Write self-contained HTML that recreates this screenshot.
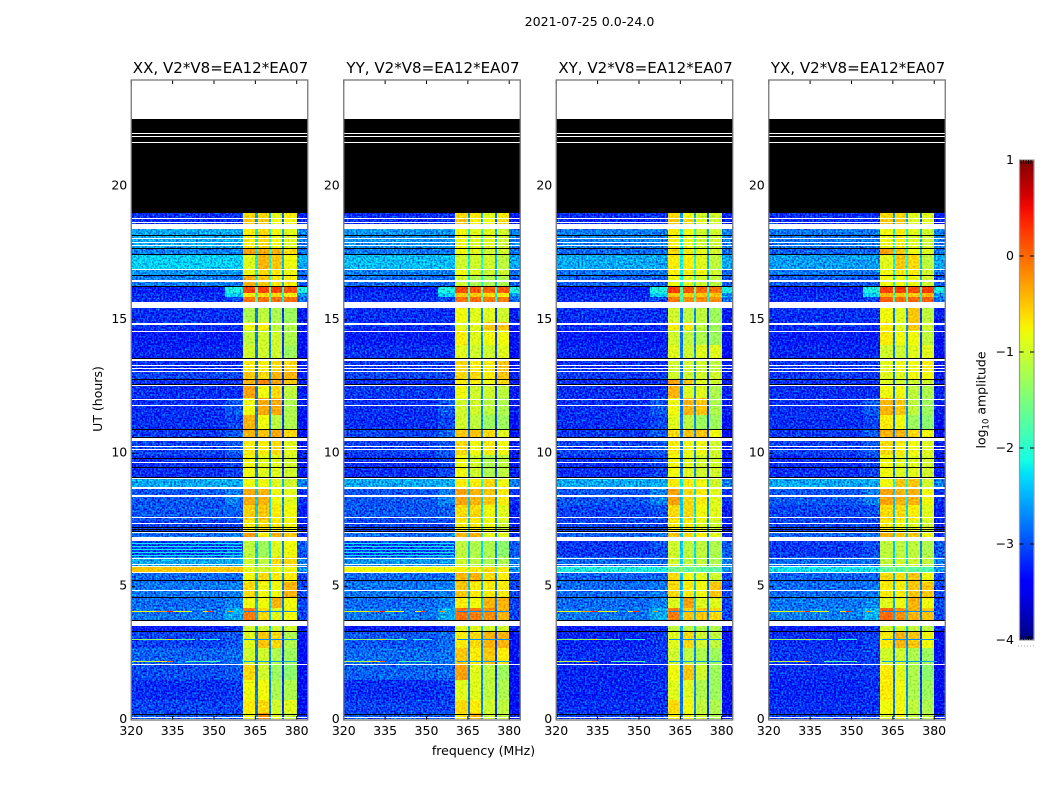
<!DOCTYPE html>
<html lang="en">
<head>
<meta charset="utf-8">
<title>2021-07-25 0.0-24.0</title>
<style>
html,body{margin:0;padding:0;background:#fff;}
svg{display:block;}
text{font-family:"DejaVu Sans","Liberation Sans",sans-serif;fill:#000;}
.tick{font-size:12.5px;}
.ttl{font-size:15.05px;}
</style>
</head>
<body>
<svg id="chart" xmlns="http://www.w3.org/2000/svg" width="1050" height="800" viewBox="0 0 1050 800">
  <defs>
    <filter id="noise-low" filterUnits="userSpaceOnUse" x="0" y="0" width="1050" height="800" color-interpolation-filters="sRGB">
      <feTurbulence type="fractalNoise" baseFrequency="0.55" numOctaves="1" seed="3" result="t"/>
      <feColorMatrix in="t" type="matrix" values="0 0 0 0 0.5  1.6 0 0 0 -0.35  0.9 0 0 0 0.05  0 0 0 0 1" result="n"/>
      <feComposite in="SourceGraphic" in2="n" operator="arithmetic" k1="0" k2="1" k3="1" k4="-0.5" result="m"/>
      <feComposite in="m" in2="SourceAlpha" operator="in"/>
    </filter>
    <filter id="noise-high" filterUnits="userSpaceOnUse" x="0" y="0" width="1050" height="800" color-interpolation-filters="sRGB">
      <feTurbulence type="fractalNoise" baseFrequency="0.5" numOctaves="1" seed="8" result="t"/>
      <feColorMatrix in="t" type="matrix" values="0.4 0 0 0 0.3  0.5 0 0 0 0.25  0.3 0 0 0 0.35  0 0 0 0 1" result="n"/>
      <feComposite in="SourceGraphic" in2="n" operator="arithmetic" k1="0" k2="1" k3="1" k4="-0.5" result="m"/>
      <feComposite in="m" in2="SourceAlpha" operator="in"/>
    </filter>
    <linearGradient id="jet-gradient" x1="0" y1="1" x2="0" y2="0"></linearGradient>
  </defs>

  <text x="589.5" y="26" text-anchor="middle" style="font-size:12.6px">2021-07-25 0.0-24.0</text>
  <text class="tick" transform="translate(102 399) rotate(-90)" text-anchor="middle">UT (hours)</text>
  <text class="tick" x="483.5" y="755" text-anchor="middle">frequency (MHz)</text>

  <g id="panels"></g>

  <g id="colorbar"></g>
  <text class="tick" transform="translate(985.5 400) rotate(-90)" text-anchor="middle">log<tspan dy="3" style="font-size:8.5px">10</tspan><tspan dy="-3"> amplitude</tspan></text>
</svg>

<script>
const panelTitles = ['XX, V2*V8=EA12*EA07', 'YY, V2*V8=EA12*EA07', 'XY, V2*V8=EA12*EA07', 'YX, V2*V8=EA12*EA07'];
const xTicks = [320, 335, 350, 365, 380];
const yTicks = [0, 5, 10, 15, 20];
const colorTicks = [1, 0, -1, -2, -3, -4];
const colorTickLabels = ['1', '0', '\u22121', '\u22122', '\u22123', '\u22124'];

// Time-section edges in UT hours, top to bottom (42 sections)
const sectionEdges = [19.02,18.825,18.41,17.7,17.44,16.875,16.65,16.275,16.01,15.86,15.45,14.925,14.625,14.06,13.575,13.05,12.79,12.56,12.075,11.44,10.875,10.61,9.94,9.11,8.66,8.06,7.5,7.01,6.71,6.11,5.775,5.55,5.175,4.61,4.2,3.75,3.3,2.7,2.1,1.5,0.75,0.26,0];

// log10 amplitude of the quiet band 320-354 MHz for each section
const lowXX = [-3.1,-3.1,-2.5,-2.7,-2.3,-2.6,-2.7,-3.2,-3.1,-3.1,-3.1,-3.1,-3.2,-3.15,-3.1,-3,-3.1,-3.1,-3.1,-3.1,-3.05,-3,-3.1,-2.5,-2.9,-2.9,-3,-2.8,-3,-2.5,-0.5,-2.8,-2.75,-2.8,-2.75,-3.2,-3,-2.85,-2.95,-3.1,-3,-2.9];
const lowYY = [-3.1,-3.1,-2.6,-2.75,-2.4,-2.7,-2.8,-3.2,-3.1,-3.1,-3.1,-3.1,-3.2,-3.1,-3.05,-3,-3.1,-3.05,-3.1,-3.1,-3,-3,-3.1,-2.5,-2.9,-2.9,-3,-2.8,-3,-2.6,-0.8,-2.8,-2.75,-2.8,-2.75,-3.2,-2.9,-2.8,-2.85,-3.1,-3,-2.9];
const lowXY = [-3.1,-3.1,-2.7,-2.8,-2.5,-2.75,-2.85,-3.2,-3.1,-3.1,-3.1,-3.1,-3.2,-3.15,-3.1,-3.05,-3.1,-3.1,-3.1,-3.1,-3.05,-3,-3.1,-2.5,-2.9,-3,-3,-2.85,-3.05,-2.8,-2.1,-2.85,-2.8,-2.8,-2.75,-3.2,-3.15,-3.1,-3.15,-3.15,-3.1,-3];
const lowYX = [-3.1,-3.1,-2.75,-2.85,-2.55,-2.75,-2.9,-3.2,-3.1,-3.1,-3.1,-3.1,-3.2,-3.15,-3.05,-3.05,-3.1,-3.1,-3.1,-3.1,-3.05,-3,-3.1,-2.5,-2.9,-3,-3,-2.85,-3.05,-2.8,-2.2,-2.85,-2.8,-2.75,-2.7,-3.2,-3.1,-3.05,-3.1,-3.15,-3.1,-3];

// Shared levels: rise of the 354-360.5 MHz transition band above the quiet band, tail 380-384 MHz, gaps between blocks
const midRise = [0,0,0,0,0,0,0,1.1,.8,.1,0,0,0,0,0,0,0,0,.2,.1,.15,.1,.1,0,.2,.05,0,.1,.1,0,0,0,.05,.1,.25,.1,.1,.05,.05,.05,0,0];
const tailLevels = [-3.2,-3.2,-2.7,-2.8,-2.5,-2.8,-2.9,-2.1,-2.6,-2.8,-3.2,-3.2,-3.3,-3.3,-3.2,-3.2,-3.2,-3.2,-3.2,-3.3,-3.3,-3.2,-3.2,-2.7,-3.1,-3.2,-3.2,-3.1,-2.9,-2.7,-2.6,-3,-3,-3,-3,-3.2,-3.3,-3.3,-3.3,-3.3,-3.3,-3.2];
const gapLevels = [-2.7,-2.7,-2.3,-2.3,-2.3,-2.3,-2.3,-1.8,-2,-2,-2.9,-2.9,-2.9,-2.9,-2.9,-2.9,-2.9,-2.9,-2.9,-2.9,-2.9,-2.9,-2.9,-2.3,-2.5,-2.5,-2.5,-2.5,-2.5,-2.5,-1.5,-2.5,-2.6,-2.6,-2.6,-2.6,-2.9,-2.9,-2.9,-2.9,-2.9,-2.9];
const gapBias = [0.1, 0.2, -0.2];

// Bright frequency blocks (MHz)
const blockStarts = [360.5, 365.8, 370.5, 375.5];
const blockEnds = [365, 369.8, 374.7, 380];

// log10 amplitude for the four bright blocks, one row per section
const blocksXX = [[-.6,-.6,-.9,-.7],[-.5,-.5,-.8,-.8],[-.7,-.6,-.8,-.9],[-.3,-.35,-.4,-.6],[-.9,-.4,-.5,-.8],[-.8,-.6,-.7,-.8],[-.35,-.5,-.7,-.7],[.2,.2,.2,.1],[-.7,-.6,-.6,-.7],[-.05,-.05,-.05,-.05],[-1.2,-1.1,-1.2,-1.3],[-.8,-.7,-1.1,-1.2],[-1.1,-1,-1,-1.2],[-1,-1,-1,-1.3],[-.7,-.7,-.6,-.6],[-.5,-.6,-.4,-.4],[-.4,-.15,-.3,-.5],[-.3,-.8,-.6,-1.1],[-.8,-.35,-.35,-1.2],[-.4,-.8,-1.1,-1.2],[-.4,-.5,-.35,-.6],[-.7,-.7,-.6,-.9],[-.8,-.9,-.9,-1],[-.8,-.8,-.9,-1],[-.35,-.4,-.8,-.9],[-.55,-.5,-.7,-.8],[-.7,-.6,-.7,-.8],[-.3,-.7,-.4,-.5],[-1.1,-1.3,-.9,-.8],[-1,-1.1,-.6,-.6],[-.9,-1,-.8,-.8],[-.8,-.6,-.7,-.7],[-.6,-.8,-.8,-.4],[-.8,-.8,-.4,-.8],[-.1,-.6,-.9,-.8],[-1,-1,-1,-1],[-.9,-.5,-.6,-1.2],[-1,-1,-1.2,-1.3],[-.6,-1,-1.3,-1.4],[-.8,-.8,-1.2,-1.2],[-.7,-.6,-1,-.9],[-.8,-.2,-.9,-1.1]];
const blocksYY = [[-.6,-.7,-.9,-.7],[-.5,-.7,-.8,-.6],[-.8,-.9,-.9,-1],[-.8,-.9,-1,-1],[-1,-1,-1,-1.1],[-.8,-.9,-1,-1],[-1,-1.2,-1.2,-1.2],[.15,.1,.05,.1],[-.5,-.5,-.6,-.7],[-.05,0,-.1,-.1],[-.8,-.9,-.9,-1],[-.9,-.9,-.5,-.5],[-.7,-.9,-.8,-.8],[-.9,-1,-1,-.9],[-.6,-.7,-.7,-.5],[-.6,-.6,-.7,-.5],[-.7,-.7,-.8,-.6],[-.8,-1,-1,-1.1],[-1,-1,-1.1,-1.2],[-1,-1.1,-1.3,-1.3],[-.5,-.5,-.6,-.9],[-.6,-.8,-.7,-.8],[-.8,-1,-1.2,-1.1],[-.7,-.7,-.6,-.8],[-.3,-.4,-.5,-.7],[-.6,-.6,-.8,-.9],[-.7,-.7,-.8,-1],[-.4,-.4,-.9,-.9],[-1.1,-1.2,-1.2,-1.4],[-1,-1.1,-1.2,-1.2],[-.7,-.7,-.6,-.7],[-.4,-.4,-.6,-.7],[-.5,-.7,-.7,-.7],[-.7,-.8,-.4,-.4],[-.05,-.1,-.2,-.4],[-.9,-.9,-1,-1],[-.7,-.6,-.4,-.4],[-.5,-.7,-.5,-.7],[-.3,-.9,-1.1,-1.3],[-.9,-.9,-1.1,-1.2],[-.6,-.7,-1,-1.1],[-.7,-.4,-1,-1.1]];
const blocksXY = [[-.6,-.8,-1,-1],[-.5,-.6,-.9,-1],[-.7,-.8,-1,-1],[-.6,-.7,-.9,-1],[-.7,-.7,-.9,-1.1],[-.7,-.7,-.8,-1],[-.8,-.9,-1,-1.1],[.25,.1,0,-.05],[-.5,-.5,-.5,-.5],[-.1,-.2,-.2,-.2],[-1,-1.1,-1.1,-1.3],[-.7,-.7,-1.1,-1.3],[-1,-1.1,-1.2,-1.3],[-.9,-1,-.9,-.9],[-1,-1,-1,-1.1],[-1,-1,-1,-1],[-.3,-.5,-.9,-1],[-.4,-.9,-.9,-1.2],[-.8,-.4,-.5,-1.2],[-.9,-1.1,-1.3,-1.3],[-.6,-.5,-.5,-.8],[-.7,-.8,-.8,-1],[-.8,-.9,-1,-1],[-.7,-.7,-.8,-1],[-.3,-.6,-.7,-.9],[-.6,-.6,-.8,-.9],[-.7,-.7,-.9,-1],[-.5,-.6,-.7,-.9],[-1,-1.1,-1.1,-1.2],[-1,-1.1,-1.1,-1.2],[-1.6,-1.7,-1.7,-1.7],[-.6,-.8,-.9,-1],[-.6,-.7,-.8,-.5],[-.9,-.3,-.9,-.9],[-.1,-.5,-.5,-.6],[-1.1,-1.1,-1.2,-1.2],[-.9,-.6,-1,-1.1],[-1,-1.1,-1.2,-1.3],[-.8,-.5,-1,-1.3],[-.9,-.9,-1.2,-1.3],[-.6,-.8,-1.1,-1.2],[-.7,-.8,-1,-1.2]];
const blocksYX = [[-.6,-.6,-.9,-.9],[-.5,-.5,-.9,-.9],[-.8,-.7,-.9,-1],[-.3,-.5,-.8,-.9],[-.9,-.5,-.6,-1.1],[-.8,-.7,-.7,-1],[-.8,-.8,-.8,-1],[.2,.25,.15,.25],[-.4,-.5,-.5,-.4],[.05,0,0,.05],[-.8,-.9,-.5,-1.1],[-.7,-.9,-.5,-1],[-.7,-.8,-.8,-1.1],[-1,-1,-.9,-.9],[-.9,-.8,-.8,-.7],[-.9,-.9,-.8,-.8],[-.9,-1,-1,-1],[-.8,-.8,-1.1,-1.2],[-.4,-.5,-1.1,-1.3],[-.7,-.8,-1.3,-1.4],[-.4,-.4,-.6,-.8],[-.6,-.7,-.8,-.9],[-.8,-.9,-.9,-1],[-.8,-.5,-.5,-1],[-.3,-.4,-.4,-.8],[-.6,-.6,-.7,-.9],[-.7,-.8,-.9,-1],[-.4,-.5,-.5,-.8],[-1.1,-1.1,-1.1,-1.2],[-1.1,-1,-1,-1.1],[-1.7,-1.7,-1.7,-1.8],[-.6,-.6,-.5,-.8],[-.7,-.7,-.5,-.5],[-.9,-.8,-.4,-.8],[0,-.2,-.4,-.5],[-1,-1,-1.1,-1.1],[-.7,-.4,-.5,-.8],[-1,-1,-1.2,-1.3],[-.7,-.9,-1.2,-1.4],[-.7,-.8,-1.2,-1.3],[-.8,-.8,-1.1,-1.2],[-.9,-.8,-1.1,-1.1]];

const panelLow = [lowXX, lowYY, lowXY, lowYX];
const panelBlocks = [blocksXX, blocksYY, blocksXY, blocksYX];

// RFI spike rows: hour, start MHz, end MHz, level
const spikeHours = [4.1,4.1,4.1,4.1,4.1,4.1,4.1,3.04,3.04,3.04,3.04,3.04,2.2,2.2,2.2,2.2,2.2];
const spikeStarts = [320,329,333,346,348,355,361,320,333,335,345,361,320,329,333,340,361];
const spikeEnds = [342,333,335,348,350,357,381,333,335,343,352,381,333,333,335,352,381];
const spikeValues = [-.8,-.3,.4,-.7,.3,-.2,-2.7,-1.4,-.6,-1.7,-2,-2.7,-1.1,-.7,0,-1.8,-2.6];

// Stripe rows seen only in the parallel-hand panels
const stripeHours = [6.64,6.525,6.41,6.3,6.19];
const stripeLevels = [-2.2,-2.2,-2.2,-2.2,-2.2];
const stripePanels = [1, 1, 0, 0];

// Flagged time ranges [top hour, bottom hour]
const blackBands = [[22.525,19.02],[18.19,18.15],[17.7,17.66],[17.475,17.44],[16.69,16.65],[16.29,16.25],[13.575,13.55],[12.79,12.75],[12.6,12.57],[10.91,10.88],[10.61,10.58],[9.825,9.79],[9.49,9.45],[9.13,9.09],[7.24,7.2],[7.16,7.14],[7.09,7.05],[5.24,5.2],[4.6,4.57],[3.76,3.73],[3.33,3.29],[.225,.19]];
const whiteBands = [[24,22.525],[22.01,21.97],[21.9,21.86],[21.675,21.64],[18.84,18.79],[18.69,18.64],[18.6,18.41],[18.06,18.02],[17.925,17.89],[17.81,17.77],[16.9,16.87],[16.5,16.425],[15.675,15.45],[14.87,14.83],[14.6,14.56],[13.55,13.45],[13.31,13.27],[13.2,13.16],[13.09,13.05],[12.56,12.52],[12.04,12],[11.81,11.78],[10.59,10.45],[10.29,10.26],[10.15,10.12],[9.66,9.62],[9.09,9.04],[8.74,8.65],[8.42,8.38],[7.63,7.59],[7.4,7.37],[7.05,7],[6.86,6.7],[6.075,6.04],[5.85,5.81],[5.79,5.76],[5.55,5.5],[4.86,4.82],[3.7,3.51],[2.09,2.05],[.1,.07],[.025,0]];

const SVG_NS = 'http://www.w3.org/2000/svg';
const panelLefts = [131.25, 343.75, 556.25, 768.75];
const axesWidth = 176.5, axesTop = 80, axesBottom = 720;
const FMIN = 320, FMAX = 384, TMAX = 24, CMIN = -4, CMAX = 1;
const CB_LEFT = 1019.5, CB_RIGHT = 1034, CB_TOP = 160, CB_BOTTOM = 640;

function xScale(p, mhz) { return panelLefts[p] + (mhz - FMIN) / (FMAX - FMIN) * axesWidth; }
function yScale(h) { return axesBottom - h / TMAX * (axesBottom - axesTop); }
function cScale(v) { return CB_BOTTOM - (v - CMIN) / (CMAX - CMIN) * (CB_BOTTOM - CB_TOP); }

function jet(t) {
  t = Math.max(0, Math.min(1, t));
  const r = t < 0.35 ? 0 : t < 0.66 ? (t - 0.35) / 0.31 : t < 0.89 ? 1 : 1 - (t - 0.89) / 0.11 * 0.5;
  const g = t < 0.125 ? 0 : t < 0.375 ? (t - 0.125) / 0.25 : t < 0.64 ? 1 : t < 0.91 ? 1 - (t - 0.64) / 0.27 : 0;
  const b = t < 0.11 ? 0.5 + t / 0.11 * 0.5 : t < 0.34 ? 1 : t < 0.65 ? 1 - (t - 0.34) / 0.31 : 0;
  return 'rgb(' + Math.round(r * 255) + ',' + Math.round(g * 255) + ',' + Math.round(b * 255) + ')';
}
function levelColor(v) { return jet((v - CMIN) / (CMAX - CMIN)); }

function makeRect(parent, x1, x2, y1, y2, fill) {
  const el = document.createElementNS(SVG_NS, 'rect');
  const rx = Math.round(x1), ry = Math.round(y1);
  el.setAttribute('x', rx);
  el.setAttribute('y', ry);
  el.setAttribute('width', Math.max(1, Math.round(x2) - rx));
  el.setAttribute('height', Math.max(1, Math.round(y2) - ry));
  el.setAttribute('fill', fill);
  parent.appendChild(el);
  return el;
}
function makeLine(parent, x1, y1, x2, y2, stroke, width) {
  const el = document.createElementNS(SVG_NS, 'line');
  el.setAttribute('x1', x1);
  el.setAttribute('y1', y1);
  el.setAttribute('x2', x2);
  el.setAttribute('y2', y2);
  el.setAttribute('stroke', stroke);
  el.setAttribute('stroke-width', width);
  parent.appendChild(el);
  return el;
}
function makeText(parent, x, y, anchor, cls, content) {
  const el = document.createElementNS(SVG_NS, 'text');
  el.setAttribute('x', x);
  el.setAttribute('y', y);
  el.setAttribute('text-anchor', anchor);
  el.setAttribute('class', cls);
  el.textContent = content;
  parent.appendChild(el);
  return el;
}
function makeGroup(parent, name) {
  const el = document.createElementNS(SVG_NS, 'g');
  
  
  parent.appendChild(el);
  return el;
}

const panelsRoot = document.getElementById('panels');
panelTitles.forEach(function (title, p) {
  const pol = title.slice(0, 2).toLowerCase();
  const g = makeGroup(panelsRoot, 'panel-' + pol);
  const low = panelLow[p];
  const blocks = panelBlocks[p];

  const lowGroup = makeGroup(g, 'quiet-band-' + pol);
  lowGroup.setAttribute('filter', 'url(#noise-low)');
  lowGroup.setAttribute('shape-rendering', 'crispEdges');
  const highGroup = makeGroup(g, 'bright-band-' + pol);
  highGroup.setAttribute('filter', 'url(#noise-high)');
  highGroup.setAttribute('shape-rendering', 'crispEdges');

  low.forEach(function (level, i) {
    const y1 = yScale(sectionEdges[i]), y2 = yScale(sectionEdges[i + 1]);
    const mid = level + midRise[i];
    const lowTarget = level > -1.5 ? highGroup : lowGroup;
    const lowCell = makeRect(lowTarget, xScale(p, FMIN), xScale(p, 354), y1, y2, levelColor(level));
    
    
    const midCell = makeRect(lowTarget, xScale(p, 354), xScale(p, blockStarts[0]), y1, y2, levelColor(mid));
    
    
    const tailCell = makeRect(lowGroup, xScale(p, blockEnds[3]), xScale(p, FMAX), y1, y2, levelColor(tailLevels[i]));
    
    
    blocks[i].forEach(function (value, b) {
      const cell = makeRect(highGroup, xScale(p, blockStarts[b]), xScale(p, blockEnds[b]), y1, y2, levelColor(value));
      
      
      if (b < 3) {
        const gap = makeRect(highGroup, xScale(p, blockEnds[b]), xScale(p, blockStarts[b + 1]), y1, y2, levelColor(gapLevels[i] + gapBias[b]));
        
        
      }
    });
  });

  const overlay = makeGroup(g, 'overlay-' + pol);
  overlay.setAttribute('shape-rendering', 'crispEdges');

  if (stripePanels[p]) {
    stripeHours.forEach(function (h, i) {
      const stripe = makeRect(overlay, xScale(p, FMIN), xScale(p, 360), yScale(h), yScale(h) + 1, levelColor(stripeLevels[i]));
      
      
    });
  }
  spikeHours.forEach(function (h, i) {
    const spike = makeRect(overlay, xScale(p, spikeStarts[i]), xScale(p, spikeEnds[i]), yScale(h), yScale(h) + 1, levelColor(spikeValues[i]));
    
    
  });
  blackBands.forEach(function (band) {
    const el = makeRect(overlay, xScale(p, FMIN), xScale(p, FMAX), yScale(band[0]), yScale(band[1]), '#000');
    
    
  });
  whiteBands.forEach(function (band) {
    const el = makeRect(overlay, xScale(p, FMIN), xScale(p, FMAX), yScale(band[0]), yScale(band[1]), '#fff');
    
    
  });

  xTicks.forEach(function (t) {
    const x = xScale(p, t);
    const b = makeLine(g, x, axesBottom, x, axesBottom - 4, '#000', 1);
    
    
    const a = makeLine(g, x, axesTop, x, axesTop + 4, '#000', 1);
    
    
    const lbl = makeText(g, x, 735, 'middle', 'tick', String(t));
    
    
  });
  yTicks.forEach(function (t) {
    const y = yScale(t);
    const l = makeLine(g, panelLefts[p], y, panelLefts[p] + 4, y, '#000', 1);
    
    
    const r = makeLine(g, panelLefts[p] + axesWidth, y, panelLefts[p] + axesWidth - 4, y, '#000', 1);
    
    
    const lbl = makeText(g, panelLefts[p] - 4, y + 3, 'end', 'tick', String(t));
    
    
  });

  const frame = document.createElementNS(SVG_NS, 'rect');
  frame.setAttribute('x', panelLefts[p]);
  frame.setAttribute('y', axesTop);
  frame.setAttribute('width', axesWidth);
  frame.setAttribute('height', axesBottom - axesTop);
  frame.setAttribute('fill', 'none');
  frame.setAttribute('stroke', '#777');
  frame.setAttribute('stroke-width', '1.3');
  
  
  g.appendChild(frame);

  const ttl = makeText(g, panelLefts[p] + axesWidth / 2 + 1, 73, 'middle', 'ttl', title);
  
  
});

// Colour bar
const grad = document.getElementById('jet-gradient');
for (let i = 0; i <= 40; i++) {
  const stop = document.createElementNS(SVG_NS, 'stop');
  stop.setAttribute('offset', (i / 40 * 100) + '%');
  stop.setAttribute('stop-color', jet(i / 40));
  grad.appendChild(stop);
}
const cbRoot = document.getElementById('colorbar');
const cbRect = document.createElementNS(SVG_NS, 'rect');
cbRect.setAttribute('x', CB_LEFT);
cbRect.setAttribute('y', CB_TOP);
cbRect.setAttribute('width', CB_RIGHT - CB_LEFT);
cbRect.setAttribute('height', CB_BOTTOM - CB_TOP);
cbRect.setAttribute('fill', 'url(#jet-gradient)');
cbRect.setAttribute('stroke', '#999');
cbRect.setAttribute('stroke-width', '1.2');


cbRoot.appendChild(cbRect);

colorTicks.forEach(function (v, i) {
  const y = cScale(v);
  const lbl = makeText(cbRoot, 1014, y + 4, 'end', 'tick', colorTickLabels[i]);
  
  
  if (v !== CMIN && v !== CMAX) {
    const a = makeLine(cbRoot, CB_LEFT, y, CB_LEFT + 4, y, '#000', 1);
    
    
    const b = makeLine(cbRoot, CB_RIGHT, y, CB_RIGHT - 4, y, '#000', 1);
    
    
  }
});
[1021, 1023.5, 1026, 1028.5, 1031].forEach(function (x) {
  const t = makeLine(cbRoot, x, CB_TOP, x, CB_TOP + 4, '#000', 0.9);
  
  
  const u = makeLine(cbRoot, x, CB_BOTTOM, x, CB_BOTTOM - 4, '#000', 0.9);
  
  
});
[1018, 1021, 1024, 1027, 1030, 1033].forEach(function (x) {
  const d = makeLine(cbRoot, x, 646, x + 1, 646, '#aaa', 1);
  
  
});
</script>
</body>
</html>
